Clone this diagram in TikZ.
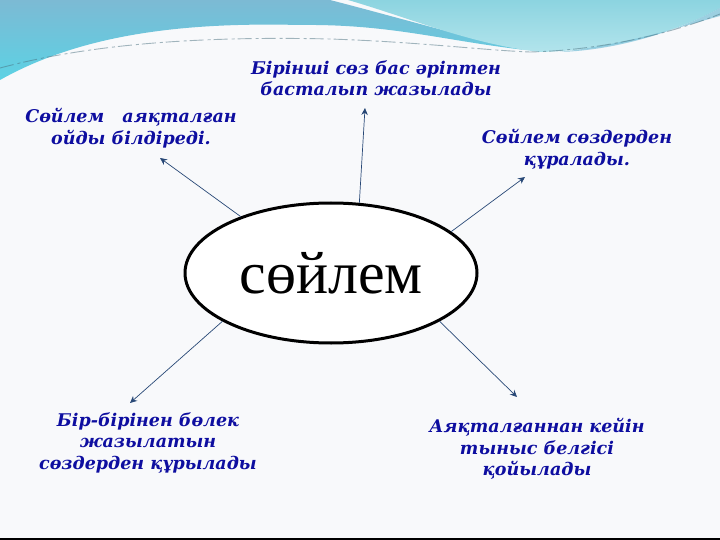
\documentclass[tikz,border=0pt]{standalone}
\usepackage{fontspec}
\setmainfont{Liberation Serif}
\usetikzlibrary{arrows.meta,shapes.geometric}
\definecolor{labblue}{RGB}{14,14,160}
\definecolor{arrcol}{RGB}{40,72,118}
\definecolor{bgcol}{RGB}{248,249,251}
\definecolor{cyanL}{RGB}{92,210,228}
\definecolor{steel}{RGB}{124,186,212}
\definecolor{cyanR}{RGB}{140,212,224}
\definecolor{cyanRb}{RGB}{178,228,236}
\newfontfamily\labfamily{DejaVu Serif}
\tikzset{
  lab/.style={text=labblue, align=center, inner sep=0pt,
    font=\labfamily\bfseries\itshape\fontsize{17.5}{21.5}\selectfont},
  arr/.style={draw=arrcol, line width=0.7pt, -{Stealth[length=7pt,width=6.5pt]}},
  hub/.style={ellipse, draw=black, line width=3pt, fill=white,
    minimum width=292pt, minimum height=140pt, inner sep=0pt,
    font=\fontsize{60}{60}\selectfont}
}
\begin{document}
\begin{tikzpicture}[x=1pt,y=-1pt]
\useasboundingbox (0,0) rectangle (720,540);
\fill[bgcol] (0,0) rectangle (720,540);
% top decoration: left dark band
\shade[top color=steel, bottom color=cyanL]
  (0,0) -- (330,0) .. controls (400,18) and (460,36) .. (525,50)
  .. controls (440,40) and (390,24) .. (300,25)
  .. controls (180,22) and (80,35) .. (0,80) -- cycle;
% right light region
\shade[top color=cyanR, bottom color=cyanRb]
  (348,0) -- (720,0) -- (720,8) .. controls (680,30) and (620,50) .. (540,52)
  .. controls (470,44) and (410,18) .. (348,0) -- cycle;
% streak near right edge
\fill[steel!80!cyanL, opacity=0.7]
  (720,8) .. controls (680,30) and (620,50) .. (560,52)
  .. controls (630,44) and (690,24) .. (720,16) -- cycle;
% dashed streak along the wave
\draw[steel!60!black, opacity=0.5, line width=0.9pt, dash pattern=on 14pt off 4pt on 3pt off 3pt]
  (0,68) .. controls (90,44) and (200,36) .. (330,39) .. controls (420,42) and (480,50) .. (530,52)
  .. controls (610,50) and (680,30) .. (720,14);
% bottom edge
\draw[black, line width=2pt] (0,539) -- (720,539);

\node[hub] (c) at (331,273) {сөйлем};

\node[lab] (t1) at (376,78) {Бірінші сөз бас әріптен\\басталып жазылады};
\node[lab] (t2) at (131,128) {Сөйлем \ \ аяқталған\\ойды білдіреді.};
\node[lab] (t3) at (577,149) {Сөйлем сөздерден\\құралады.};
\node[lab] (t4) at (148,443) {Бір-бірінен бөлек\\жазылатын\\сөздерден құрылады};
\node[lab] (t5) at (537,449) {Аяқталғаннан кейін\\тыныс белгісі\\қойылады};

\coordinate (p1) at (365,108);
\coordinate (p2) at (160,158);
\coordinate (p3) at (525,177);
\coordinate (p4) at (130,403);
\coordinate (p5) at (517,397);

\draw[arr] (c.68) -- (p1);
\draw[arr] (c.148) -- (p2);
\draw[arr] (c.19) -- (p3);
\draw[arr] (c.204) -- (p4);
\draw[arr] (c.-24) -- (p5);
\end{tikzpicture}
\end{document}
